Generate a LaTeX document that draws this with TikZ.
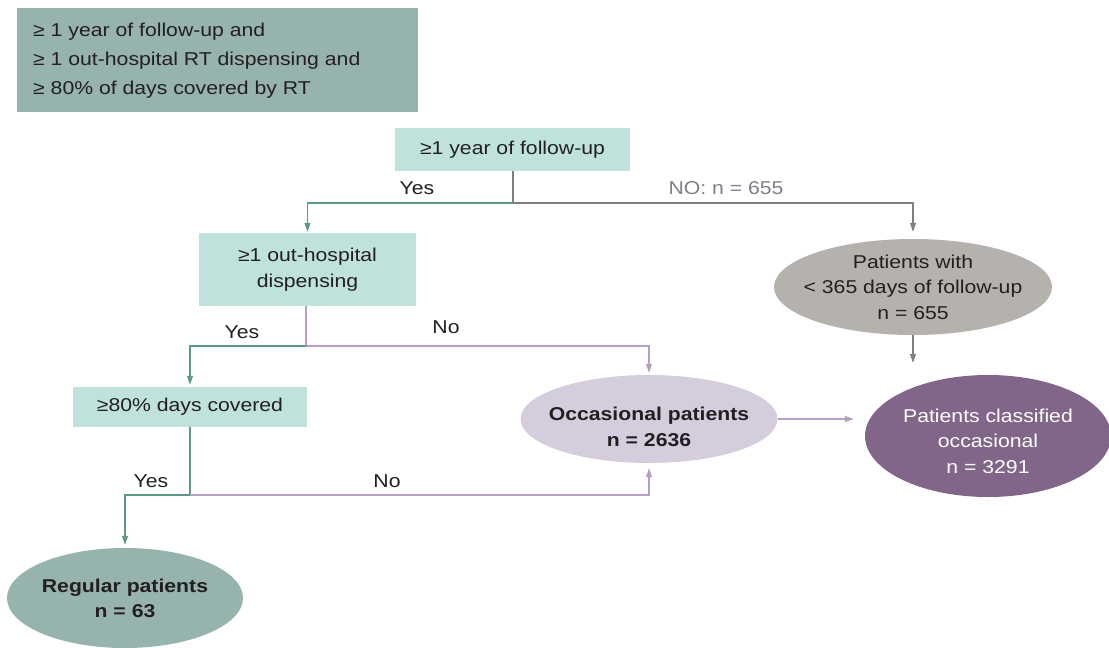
\documentclass[tikz,border=0pt]{standalone}
\usepackage{fontspec}
\setmainfont[FakeStretch=1.14]{Liberation Sans}
\usetikzlibrary{shapes.geometric,arrows.meta}
\definecolor{legendfill}{HTML}{97B3AD}
\definecolor{boxfill}{HTML}{BFE3DC}
\definecolor{tealline}{HTML}{5B9A8B}
\definecolor{greyline}{HTML}{7F7F7F}
\definecolor{nolabel}{HTML}{7D7F8A}
\definecolor{purpleline}{HTML}{B79FC4}
\definecolor{occfill}{HTML}{D5CCDD}
\definecolor{greyfill}{HTML}{B5B2AE}
\definecolor{darkpurple}{HTML}{82668A}
\definecolor{txt}{HTML}{231F20}
\begin{document}
\begin{tikzpicture}[x=1pt,y=-1pt,
  font=\fontsize{18.6}{25.5}\selectfont, text=txt,
  cbox/.style={rectangle, fill=boxfill, inner sep=0pt, align=center},
  ell/.style={ellipse, inner sep=0pt},
  etext/.style={inner sep=0pt, align=center},
  lab/.style={inner sep=0pt, anchor=center},
  tip/.style={-{Triangle[length=9pt,width=6pt]}},
  teal/.style={draw=tealline, line width=1.1pt},
  grey/.style={draw=greyline, line width=1.1pt},
  purp/.style={draw=purpleline, line width=1.1pt}]
\useasboundingbox (0,0) rectangle (1109,648);
% legend
\node[rectangle, fill=legendfill, minimum width=401pt, minimum height=104pt, inner sep=0pt] (legend) at (217.5,60) {};
\node[anchor=west, align=left, inner sep=0pt, font=\fontsize{18.6}{29}\selectfont] (legtext) at (33,61)
  {≥ 1 year of follow-up and\\ ≥ 1 out-hospital RT dispensing and\\ ≥ 80\% of days covered by RT};
% boxes
\node[cbox, minimum width=235pt, minimum height=43pt] (b1) at (512.5,149.5) {≥1 year of follow-up};
\node[cbox, minimum width=217pt, minimum height=73pt] (b2) at (307.5,269.5) {≥1 out-hospital\\ dispensing};
\node[cbox, minimum width=234pt, minimum height=40pt] (b3) at (190,407) {≥80\% days covered};
% ellipses (shape) and their texts
\node[ell, fill=greyfill, minimum width=278pt, minimum height=96pt] (pw) at (913,287) {};
\node[etext] (pwt) at (913,287) {Patients with\\ < 365 days of follow-up\\ n = 655};
\node[ell, fill=darkpurple, minimum width=246pt, minimum height=122pt] (pc) at (988,436) {};
\node[etext, text=white] (pct) at (988,441) {Patients classified\\ occasional\\ n = 3291};
\node[ell, fill=occfill, minimum width=257pt, minimum height=88pt] (oc) at (649,419) {};
\node[etext, font=\fontsize{18.6}{26}\selectfont\bfseries] (oct) at (649,427) {Occasional patients\\ n = 2636};
\node[ell, fill=legendfill, minimum width=236pt, minimum height=100pt] (reg) at (125,598) {};
\node[etext, font=\fontsize{18.6}{25}\selectfont\bfseries] (regt) at (125,598) {Regular patients\\ n = 63};
% junctions
\coordinate (j1) at (513,203);
\coordinate (j2) at (306,346);
\coordinate (j3) at (190,495);
% connectors
\draw[grey] (b1.south -| j1) -- (j1);
\draw[teal, tip, shorten >=1pt] (j1) -| (b2.north);
\draw[grey, tip, shorten >=7pt] (j1) -| (pw.north);
\draw[grey, tip, shorten >=12pt] (pw.south) -- (pw.south |- pc.north);
\draw[purp] (b2.south -| j2) -- (j2);
\draw[teal, tip, shorten >=2pt] (j2) -| (b3.north);
\draw[purp, tip, shorten >=2pt] (j2) -| (oc.north);
\draw[teal] (b3.south) -- (j3);
\draw[teal, tip, shorten >=3pt] (j3) -| (reg.north);
\draw[purp, tip, shorten >=5pt] (j3) -| (oc.south);
\draw[purp, tip, shorten >=11pt] (oc.east) -- (oc.east -| pc.west);
% labels
\node[lab] (l1) at (417,188) {Yes};
\node[lab, text=nolabel] (l2) at (726,188) {NO: n = 655};
\node[lab] (l3) at (242,332) {Yes};
\node[lab] (l4) at (446,327) {No};
\node[lab] (l5) at (151,481) {Yes};
\node[lab] (l6) at (387,481) {No};
\end{tikzpicture}
\end{document}
